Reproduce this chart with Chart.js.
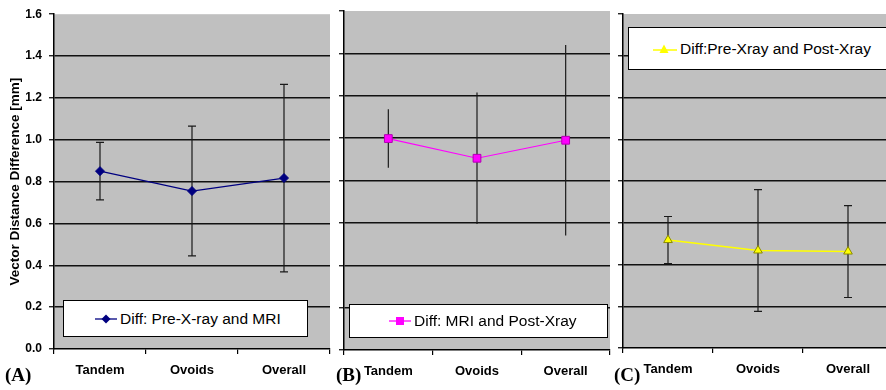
<!DOCTYPE html>
<html>
<head>
<meta charset="utf-8">
<script src="https://cdn.jsdelivr.net/npm/chart.js@4/dist/chart.umd.min.js"></script>
<style>
  html, body { margin:0; padding:0; background:#fff; width:886px; height:390px; overflow:hidden; position:relative; font-family:"Liberation Sans", Arial, sans-serif; }
  .cv { position:absolute; top:0; }
  .legend { position:absolute; background:#fff; border:1px solid #000; box-sizing:border-box; display:flex; align-items:center; font-size:15.5px; color:#000; white-space:nowrap; }
  .legend svg { margin-right:2px; }
  .plabel { position:absolute; font-family:"Liberation Serif", "Times New Roman", serif; font-weight:bold; font-size:19px; color:#000; }
</style>
</head>
<body>
<canvas id="cA" class="cv" style="left:0px;" width="340" height="390"></canvas>
<canvas id="cB" class="cv" style="left:330px;" width="290" height="390"></canvas>
<canvas id="cC" class="cv" style="left:600px;" width="300" height="390"></canvas>

<div class="legend" style="left:63px; top:300px; width:245px; height:37px; padding-left:30px;">
  <svg width="24" height="12"><line x1="1" y1="6" x2="23" y2="6" stroke="#000080" stroke-width="1.3"/><polygon points="12,1.5 16.5,6 12,10.5 7.5,6" fill="#000080"/></svg><span id="lgA"></span>
</div>
<div class="legend" style="left:349px; top:304px; width:259px; height:34px; padding-left:38px;">
  <svg width="24" height="12"><line x1="1" y1="6" x2="23" y2="6" stroke="#ff00ff" stroke-width="1.3"/><rect x="8" y="2" width="8" height="8" fill="#ff00ff"/></svg><span id="lgB"></span>
</div>
<div class="legend" style="left:628px; top:27px; width:270px; height:43px; padding-left:23px;">
  <svg width="26" height="12"><line x1="1" y1="7" x2="25" y2="7" stroke="#ffff00" stroke-width="1.5"/><polygon points="12,1.5 16.5,10 7.5,10" fill="#ffff00"/></svg><span id="lgC"></span>
</div>

<div class="plabel" style="left:5px; top:364px;">(A)</div>
<div class="plabel" style="left:336px; top:364px;">(B)</div>
<div class="plabel" style="left:614px; top:364px;">(C)</div>

<script>
// ---- data ----
const categories = ["Tandem", "Ovoids", "Overall"];
const yTicks = [0, 0.2, 0.4, 0.6, 0.8, 1.0, 1.2, 1.4, 1.6];

const labelA = "Diff: Pre-X-ray and MRI";
const meanA = [0.85, 0.755, 0.817];
const errA  = [0.137, 0.31, 0.448];

const labelB = "Diff: MRI and Post-Xray";
const meanB = [0.998, 0.905, 0.99];
const errB  = [0.138, 0.31, 0.45];

const labelC = "Diff:Pre-Xray and Post-Xray";
const meanC = [0.517, 0.467, 0.462];
const errC  = [0.113, 0.292, 0.22];

const yTitle = "Vector Distance Difference [mm]";

document.getElementById('lgA').textContent = labelA;
document.getElementById('lgB').textContent = labelB;
document.getElementById('lgC').textContent = labelC;

const FONT = '"Liberation Sans", Arial, sans-serif';

const bgPlugin = {
  id: 'greyBg',
  beforeDraw(chart) {
    const a = chart.chartArea, ctx = chart.ctx;
    ctx.save();
    ctx.fillStyle = '#c0c0c0';
    ctx.fillRect(a.left, a.top, a.right - a.left, a.bottom - a.top);
    ctx.restore();
  }
};

const errPlugin = {
  id: 'errBars',
  beforeDatasetsDraw(chart, args, opts) {
    const ctx = chart.ctx;
    const ys = chart.scales.y, xs = chart.scales.x;
    const means = opts.means, errs = opts.errs, cap = opts.cap;
    ctx.save();
    ctx.strokeStyle = '#1a1a1a';
    ctx.lineWidth = 1.2;
    means.forEach((m, i) => {
      const x = xs.getPixelForValue(i);
      const yt = ys.getPixelForValue(m + errs[i]);
      const yb = ys.getPixelForValue(m - errs[i]);
      ctx.beginPath();
      ctx.moveTo(x, yt); ctx.lineTo(x, yb);
      if (cap > 0) {
        ctx.moveTo(x - cap, yt); ctx.lineTo(x + cap, yt);
        ctx.moveTo(x - cap, yb); ctx.lineTo(x + cap, yb);
      }
      ctx.stroke();
    });
    ctx.restore();
  }
};

function makeChart(id, cfg) {
  return new Chart(document.getElementById(id), {
    type: 'line',
    data: {
      labels: categories,
      datasets: [{
        label: cfg.label,
        data: cfg.means,
        borderColor: cfg.color,
        backgroundColor: cfg.color,
        pointBackgroundColor: cfg.color,
        pointBorderColor: cfg.pointBorder,
        pointBorderWidth: 1,
        borderWidth: cfg.lineWidth,
        pointStyle: cfg.pointStyle,
        pointRadius: cfg.pointRadius,
        tension: 0,
        fill: false
      }]
    },
    plugins: [bgPlugin, errPlugin],
    options: {
      responsive: false,
      animation: false,
      devicePixelRatio: 1,
      layout: { padding: cfg.padding },
      plugins: {
        legend: { display: false },
        tooltip: { enabled: false },
        errBars: { means: cfg.means, errs: cfg.errs, cap: cfg.cap }
      },
      scales: {
        x: {
          type: 'category',
          offset: true,
          afterFit(s) { s.height = cfg.xHeight; },
          grid: { offset: true, drawOnChartArea: false, drawTicks: true, tickLength: 5, color: '#000', lineWidth: 1.2 },
          border: { display: true, color: '#000', width: 1.5 },
          ticks: { color: '#000', font: { family: FONT, size: 13, weight: 'bold' }, padding: 9, maxRotation: 0 }
        },
        y: {
          min: 0, max: 1.6,
          afterBuildTicks(s) { s.ticks = yTicks.map(v => ({ value: v })); },
          afterFit(s) { s.width = cfg.yWidth; },
          grid: {
            drawTicks: true, tickLength: 5, tickColor: '#000', tickWidth: 1.2,
            color: c => (c.tick && (c.tick.value === 1.6 || c.tick.value === 0)) ? 'rgba(0,0,0,0)' : '#111',
            lineWidth: 1.5
          },
          border: { display: true, color: '#000', width: 1.5 },
          title: {
            display: cfg.showTitle, text: yTitle, color: '#000',
            font: { family: FONT, size: 13.5, weight: 'bold' },
            padding: { top: 7, bottom: 0 }
          },
          ticks: {
            display: cfg.showYLabels, color: '#000', padding: 7,
            font: { family: FONT, size: 12, weight: 'bold' },
            callback: v => Number(v).toFixed(1)
          }
        }
      }
    }
  });
}

makeChart('cA', {
  label: labelA, means: meanA, errs: errA, color: '#000080', pointBorder: '#000080',
  lineWidth: 1.2, pointStyle: 'rectRot', pointRadius: 4.5, cap: 4,
  padding: { top: 13, right: 10, left: 0, bottom: 0 }, xHeight: 41, yWidth: 54,
  showTitle: true, showYLabels: true
});
makeChart('cB', {
  label: labelB, means: meanB, errs: errB, color: '#ff00ff', pointBorder: '#b000b0',
  lineWidth: 1.2, pointStyle: 'rect', pointRadius: 5.5, cap: 0,
  padding: { top: 11, right: 10, left: 0, bottom: 0 }, xHeight: 40, yWidth: 14,
  showTitle: false, showYLabels: false
});
makeChart('cC', {
  label: labelC, means: meanC, errs: errC, color: '#ffff00', pointBorder: '#8a8a00',
  lineWidth: 1.5, pointStyle: 'triangle', pointRadius: 5, cap: 4,
  padding: { top: 14, right: 7, left: 0, bottom: 0 }, xHeight: 42, yWidth: 23,
  showTitle: false, showYLabels: false
});
</script>
</body>
</html>
